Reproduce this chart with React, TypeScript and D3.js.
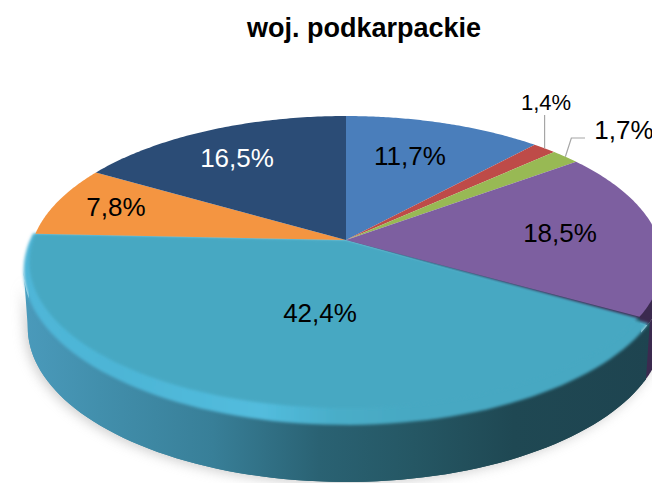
import React from 'react'
import * as d3 from 'd3'

const title = 'woj. podkarpackie'
const categories = ['a', 'b', 'c', 'd', 'e', 'f', 'g']
const shares = [11.7, 1.4, 1.7, 18.5, 42.4, 7.8, 16.5]
const labels = ['11,7%', '1,4%', '1,7%', '18,5%', '42,4%', '7,8%', '16,5%']
const colors = ['#4a7ebb', '#be4b48', '#98b954', '#7d5fa0', '#46a8c2', '#f49541', '#2b4c76']
const labelColors = ['#000', '#000', '#000', '#000', '#000', '#000', '#fff']
const labelSizes = [26, 22, 26, 26, 26, 26, 26]
const labelPos = [[410, 165], [546, 110], [624, 139], [560, 242], [320, 322], [116, 216], [237, 167]]

const width = 652
const height = 483
const cx = 346
const cy = 240

// perspective circle: a = half width, b/k set how far the near edge drops
const flat = { a: 313, b: 142.7, k: 0.151, dy: 0 }
const rim = { a: 316, b: 148.5, k: 0.197, dy: 0 }
const base = { a: 312, b: 148.5, k: 0.197, dy: 57 }

type Proj = typeof flat
const project = (t: number, p: Proj): [number, number] => {
  const w = 1 + p.k * Math.cos(t)
  return [cx + p.a * Math.sin(t) / w, cy + p.dy - p.b * Math.cos(t) / w]
}
const samples = (t0: number, t1: number) => d3.range(0, 81).map(i => t0 + (t1 - t0) * i / 80)
const line = d3.line()

const wedge = (t0: number, t1: number, p: Proj) =>
  line([[cx, cy + p.dy], ...samples(t0, t1).map(t => project(t, p))]) + 'Z'
const band = (t0: number, t1: number, p: Proj, q: Proj) =>
  line([...samples(t0, t1).map(t => project(t, p)), ...samples(t1, t0).map(t => project(t, q))]) + 'Z'

const arcs = d3.pie<number>().sort(null).value(d => d)(shares)
const widest = Math.acos(-rim.k)
const leftWidest = 2 * Math.PI - widest

const sideStops = [[0, '#4a9abb'], [0.12, '#428fac'], [0.3, '#387f98'], [0.47, '#2a6273'], [0.62, '#255764'], [0.78, '#1f4853'], [1, '#1e4450']]
const bevelStops = [[0, '#4fb6d8'], [0.15, '#4db5d6'], [0.38, '#52bcdd'], [0.5, '#49adc8'], [0.62, '#46a8c2'], [1, '#46a8c2']]

export default function App() {
  const teal = arcs[4]
  const silhouette = band(widest, leftWidest, rim, base)
  const order = [0, 1, 2, 3, 5, 6]
  const lead14 = project((arcs[1].startAngle + arcs[1].endAngle) / 2, flat)
  const lead17 = project((arcs[2].startAngle + arcs[2].endAngle) / 2, flat)
  return (
    <svg width={width} height={height} style={{ position: 'absolute', left: 0, top: 0 }} fontFamily="'Liberation Sans', Arial, sans-serif">
      <defs>
        <linearGradient id="side" gradientUnits="userSpaceOnUse" x1={24} x2={652} y1={0} y2={0}>
          {sideStops.map(([o, c]) => <stop key={o} offset={o} stopColor={c as string} />)}
        </linearGradient>
        <linearGradient id="bevel" gradientUnits="userSpaceOnUse" x1={24} x2={652} y1={0} y2={0}>
          {bevelStops.map(([o, c]) => <stop key={o} offset={o} stopColor={c as string} />)}
        </linearGradient>
        <filter id="shadow" x="-10%" y="-10%" width="120%" height="130%"><feGaussianBlur stdDeviation={6} /></filter>
        <filter id="soft" x="-5%" y="-5%" width="110%" height="110%"><feGaussianBlur stdDeviation={1.8} /></filter>
      </defs>

      <text x={364} y={37} textAnchor="middle" fontSize={27} fontWeight="bold">{title}</text>

      <path d={silhouette} fill="#a8a8a8" opacity={0.55} filter="url(#shadow)" transform="translate(-3,2)" />
      <path d={wedge(widest, teal.startAngle + 0.02, rim)} fill="#3b2a4f" />
      <path d={band(widest, teal.startAngle + 0.02, rim, base)} fill="#3b2a4f" />
      <path d={band(teal.startAngle, leftWidest, flat, base)} fill="url(#side)" />
      <path d={band(teal.startAngle, leftWidest, rim, base)} fill="url(#side)" />
      <path d={wedge(teal.startAngle + 0.01, teal.endAngle, rim)} fill="url(#bevel)" filter="url(#soft)" />
      <path d={wedge(teal.startAngle + 0.01, teal.endAngle, flat)} fill={colors[4]} filter="url(#soft)" />

      {order.map(i => (
        <path key={categories[i]} d={wedge(arcs[i].startAngle, arcs[i].endAngle, flat)} fill={colors[i]} />
      ))}
      <path d={`M${lead14[0]},${labelPos[1][1] + 5}L${lead14[0]},${lead14[1]}`} fill="none" stroke="#a6a6a6" strokeWidth={1.2} />
      <path d={`M${labelPos[2][0] - 39},${labelPos[2][1] - 1}L${lead17[0] + 6},${labelPos[2][1] - 1}L${lead17[0]},${lead17[1]}`} fill="none" stroke="#a6a6a6" strokeWidth={1.2} />

      {labels.map((l, i) => (
        <text key={categories[i]} x={labelPos[i][0]} y={labelPos[i][1]} textAnchor="middle" fontSize={labelSizes[i]} fill={labelColors[i]}>{l}</text>
      ))}
    </svg>
  )
}
